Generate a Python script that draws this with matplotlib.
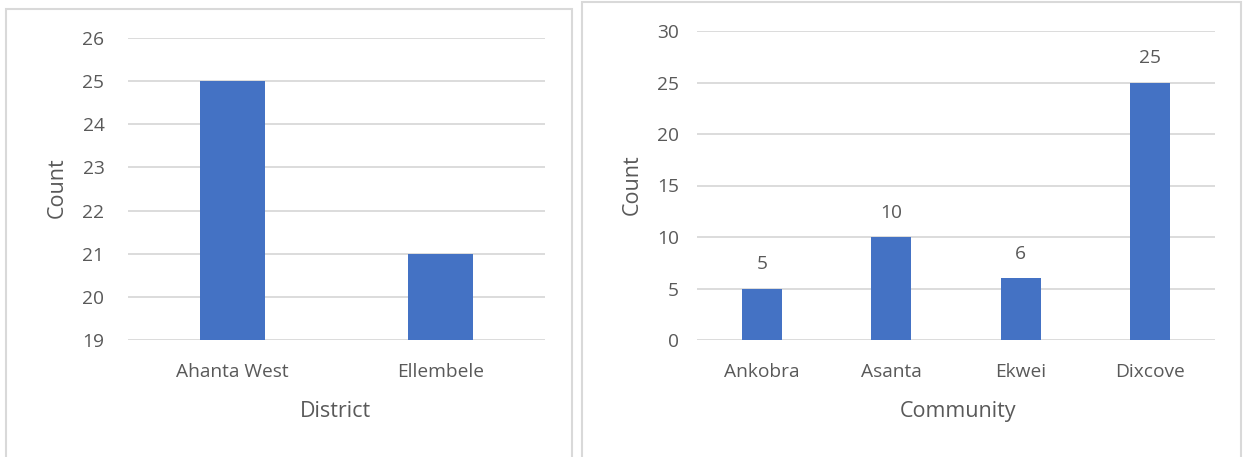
import matplotlib
matplotlib.use("Agg")
import matplotlib.pyplot as plt
from matplotlib.patches import Rectangle

districts = ["Ahanta West", "Ellembele"]
district_counts = [25, 21]
district_ticks = [19, 20, 21, 22, 23, 24, 25, 26]

communities = ["Ankobra", "Asanta", "Ekwei", "Dixcove"]
community_counts = [5, 10, 6, 25]
community_ticks = [0, 5, 10, 15, 20, 25, 30]

BAR = "#4472C4"
GRID = "#d9d9d9"
TEXT = "#595959"
TICK_SIZE = 13.8
TITLE_SIZE = 15.5
plt.rcParams["font.family"] = ["Open Sans", "DejaVu Sans"]

W, H = 1244, 457
fig = plt.figure(figsize=(W / 100, H / 100), dpi=100)


def fx(px):
    return px / W


def fy(py):
    return 1 - py / H


def frame(x0, y0, x1, y1):
    return Rectangle((fx(x0), fy(y1)), fx(x1 - x0), (y1 - y0) / H,
                     transform=fig.transFigure, fill=False, edgecolor=GRID,
                     linewidth=1.5)


fig.patches.append(frame(6, 9, 572, 470))
fig.patches.append(frame(582, 2, 1241, 470))


def style(ax, ticks, ypad):
    ax.set_yticks(ticks)
    ax.set_ylim(ticks[0], ticks[-1])
    ax.grid(axis="y", color=GRID, linewidth=1.3)
    ax.set_axisbelow(True)
    for s in ax.spines.values():
        s.set_visible(False)
    ax.tick_params(length=0, labelsize=TICK_SIZE, labelcolor=TEXT)
    ax.tick_params(axis="y", pad=ypad)
    ax.tick_params(axis="x", pad=16.5)


def labels(ax, xlabel, xl_x, ylabel, yl_x, yl_y):
    ax.set_xlabel(xlabel, fontsize=TITLE_SIZE, color=TEXT)
    ax.xaxis.set_label_coords(fx(xl_x), fy(417), transform=fig.transFigure)
    ax.xaxis.label.set_va("baseline")
    ax.set_ylabel(ylabel, fontsize=TITLE_SIZE, color=TEXT)
    ax.yaxis.set_label_coords(fx(yl_x), fy(yl_y), transform=fig.transFigure)
    ax.yaxis.label.set_va("center")


ax1 = fig.add_axes([fx(128), fy(340), fx(545 - 128), (340 - 38) / H])
ax1.bar(districts, district_counts, width=0.31, color=BAR, zorder=2)
style(ax1, district_ticks, 17)
ax1.set_xlim(-0.5, len(districts) - 0.5)
labels(ax1, "District", 335, "Count", 57, 188)

ax2 = fig.add_axes([fx(697), fy(340), fx(1215 - 697), (340 - 31) / H])
bars = ax2.bar(communities, community_counts, width=0.31, color=BAR, zorder=2)
style(ax2, community_ticks, 13)
ax2.set_xlim(-0.5, len(communities) - 0.5)
ax2.bar_label(bars, labels=[str(v) for v in community_counts], padding=11,
              fontsize=TICK_SIZE, color=TEXT)
labels(ax2, "Community", 958, "Count", 632, 185)

fig.savefig("out.png", dpi=100)
